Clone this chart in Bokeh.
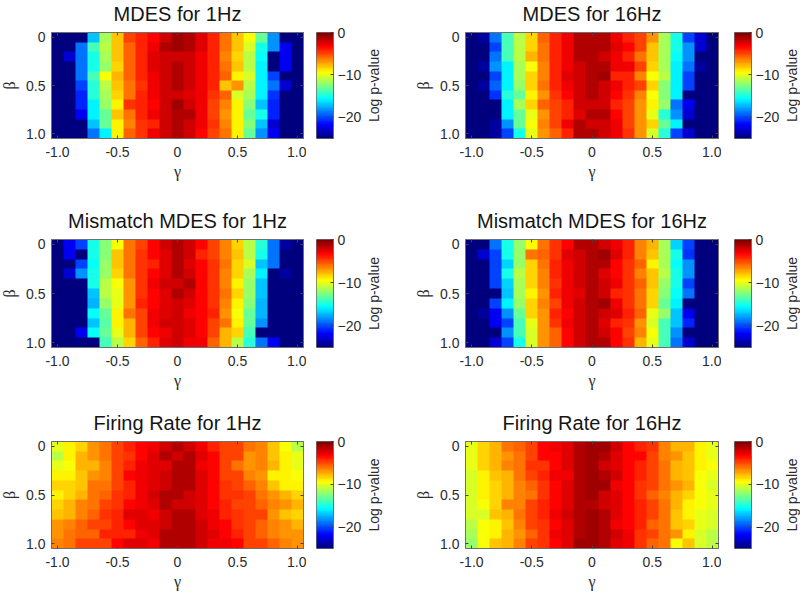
import numpy as np
from bokeh.embed import file_html
from bokeh.resources import INLINE
from bokeh.layouts import column, row
from bokeh.models import FixedTicker, LinearAxis, LinearColorMapper, Range1d
from bokeh.plotting import figure

gamma = [round(-1 + 0.1 * i, 1) for i in range(21)]
beta = [round(0.1 * i, 1) for i in range(11)]

mdes_1hz = [
[-25,-25,-25,-17,-11.5,-8,-5,-4,-3.5,-2,-1,-1.5,-2.5,-4,-6,-8,-9.5,-13,-18,-25,-25],
[-25,-25,-19,-14,-11,-8,-5.5,-4,-3,-1.5,-1,-1.5,-2.5,-4,-6,-8,-10.5,-15,-18,-22,-25],
[-25,-23,-19,-15,-11.5,-8,-5.5,-4,-2.5,-2,-2,-2,-3,-4,-6.5,-8.5,-11,-15.5,-25,-22,-25],
[-25,-25,-19,-15,-12,-8.5,-5.5,-4,-2.5,-2,-1.5,-2,-3,-4,-6,-8,-11,-16,-25,-22,-25],
[-25,-25,-19,-14,-9.5,-7.5,-5.5,-4,-3,-2,-1.5,-2,-3,-4,-5.5,-9,-10.5,-16,-20,-25,-25],
[-25,-25,-20,-14.5,-11,-8,-6,-4.5,-3,-2,-1.5,-2,-3,-4,-8,-7,-11,-16,-19,-23,-25],
[-25,-25,-21,-14.5,-11.5,-8.5,-6,-4,-3,-2,-2,-2.5,-3,-4.5,-5.5,-10.5,-11.5,-16,-20.5,-25,-25],
[-25,-25,-21,-16,-12,-9,-4.5,-4,-3.5,-2,-0.8,-2,-3,-5,-6.5,-9,-12.5,-17,-21,-25,-25],
[-25,-25,-22,-16,-13,-8,-6,-4,-3,-2,-1.5,-1.5,-3,-5,-7,-9,-13,-15,-21,-25,-25],
[-25,-25,-25,-17,-13,-9,-6.5,-4.5,-4,-2,-1.5,-2,-3,-4.5,-6.5,-9,-12.5,-17,-23,-25,-25],
[-25,-25,-25,-19,-16,-9,-5.5,-4.5,-3,-2,-1.5,-2,-3.5,-5,-6,-9,-13,-18,-22,-25,-25],
]
mdes_16hz = [
[-25,-24,-19,-14,-11,-8.5,-5.5,-4,-3,-1.5,-1.5,-1.5,-3,-4,-5,-7,-11.5,-15,-20,-23,-25],
[-25,-25,-20,-14,-11,-8.5,-6,-4,-3,-1.5,-1.5,-1.5,-2.5,-3.5,-5,-8,-11.5,-15,-18,-23,-25],
[-25,-25,-19,-14,-11,-7.5,-6,-4,-3,-1.5,-1.5,-2,-3,-4,-6,-8,-11.5,-15.5,-18,-25,-25],
[-25,-24,-18,-16,-11.5,-9.5,-6.5,-4,-3,-2,-1.5,-1.5,-3,-3,-5,-8.5,-11.5,-16,-19,-24,-25],
[-25,-25,-20,-16,-11.5,-8.5,-6.5,-4,-2.5,-2,-1.5,-1,-4,-4,-6.5,-9.5,-11,-16,-20,-25,-25],
[-25,-24,-19.5,-16,-12,-8.5,-6,-4,-3,-2,-1.5,-2,-3,-4,-5,-8.5,-12.5,-16,-20,-25,-25],
[-25,-25,-20.5,-14.5,-13,-9,-7,-4.5,-3.5,-2,-1.5,-2,-3.5,-4.5,-6.5,-9.5,-12.5,-16,-25,-25,-25],
[-25,-25,-25,-16,-11.5,-8.5,-5.5,-5,-4,-2,-2,-2,-4,-5,-7,-9,-12,-19,-22,-25,-25],
[-25,-25,-25,-16,-13,-10,-7,-5,-4,-2.5,-1.5,-1.5,-3.5,-5,-7,-10,-14.5,-18,-23,-25,-25],
[-25,-25,-24,-18,-13,-9.5,-6.5,-5,-3,-1.2,-2,-2,-3,-5,-7,-8.5,-13,-16,-25,-25,-25],
[-25,-25,-24,-20,-15,-10,-7,-5.5,-4,-1.5,-1.5,-2,-3,-4.5,-7,-10.5,-14.5,-20,-23,-25,-25],
]
mismatch_1hz = [
[-25,-22,-20,-15,-12.5,-9.5,-6,-5,-3.5,-2,-1.5,-2,-3.5,-5,-6.5,-8.5,-11,-14.5,-19,-24,-25],
[-25,-22,-25,-15,-12.5,-8,-6,-4.5,-3.5,-2.5,-1.5,-2,-4,-5,-6.5,-8,-11,-15,-19,-25,-25],
[-25,-25,-20,-15.5,-12,-8,-6,-4.5,-4,-2.5,-1.5,-2.5,-3.5,-4.5,-6,-8.5,-10.5,-17,-19,-25,-25],
[-25,-23,-18,-15,-12,-8.5,-6,-4.5,-3.5,-2.5,-1.5,-2,-3.5,-4.5,-6.5,-8.5,-11.5,-16,-25,-24,-25],
[-25,-25,-25,-15,-11,-9.5,-7,-4.5,-3,-2,-2,-1.5,-3.5,-4.5,-6.5,-9,-12,-17,-25,-25,-25],
[-25,-25,-25,-17,-11,-10,-7,-4.5,-3.5,-2.5,-1.5,-2,-3.5,-4.5,-6,-8.5,-12,-17,-25,-25,-25],
[-25,-25,-25,-17.5,-12,-10,-7,-4,-3.5,-2.5,-2,-2.5,-3.5,-4.5,-6.5,-9,-12.5,-17.5,-25,-25,-25],
[-25,-25,-25,-15.5,-13,-9,-6,-5,-3,-2.5,-2,-3,-3.5,-4,-7,-9.5,-13,-17.5,-25,-25,-25],
[-25,-25,-25,-17,-13.5,-9,-7.5,-5,-3,-2,-2,-2.5,-3.5,-5,-6,-9,-13,-18,-25,-25,-25],
[-25,-25,-22,-15.5,-13,-10,-7.5,-5,-3.5,-3,-2,-2.5,-3.5,-5,-7.5,-8.5,-14,-25,-25,-25,-25],
[-25,-25,-25,-25,-14,-11,-8.5,-5.5,-4,-2.5,-2,-3,-3,-5.5,-7.5,-11,-14.5,-19,-22,-25,-25],
]
mismatch_16hz = [
[-25,-25,-19,-15,-12,-9.5,-6,-4.5,-3.5,-1.5,-1.5,-2,-3,-4,-6.5,-7.5,-11.5,-16.5,-20,-25,-25],
[-25,-23,-20,-15,-12,-6,-5.5,-4.5,-2.5,-2,-1.5,-1,-2.5,-4,-6.5,-8,-11.5,-15,-20.5,-25,-25],
[-25,-25,-20,-16.5,-12,-8.5,-6,-4,-3,-2,-1.5,-1.5,-3.5,-4.5,-5.5,-9,-11.5,-15.5,-18,-25,-25],
[-25,-25,-20,-15,-11,-8.5,-6.5,-4,-3,-2,-1.5,-2.5,-3.5,-4.5,-6.5,-8,-11,-15,-18,-25,-25],
[-25,-25,-20,-16.5,-11.5,-8.5,-6.5,-4.5,-3,-2,-1.5,-2,-3,-4.5,-5.5,-8,-12,-15,-20,-25,-25],
[-25,-25,-25,-17,-11.5,-9,-7,-4,-3,-2.5,-1.5,-2,-4,-4.5,-6,-8.5,-12.5,-15.5,-19,-25,-25],
[-25,-25,-20,-16,-12,-8.5,-6.5,-5,-3,-2,-1.5,-1,-3,-4.5,-6,-8.5,-13,-16,-25,-25,-25],
[-25,-24,-22,-18,-13,-8.5,-7,-4,-3.5,-2,-1.5,-2,-2.5,-4,-5.5,-10,-12,-17,-22,-25,-25],
[-25,-25,-22,-20,-14,-10,-7,-4.5,-3,-2,-1.5,-2.5,-4,-4.5,-7,-10.5,-14,-17,-21,-25,-25],
[-25,-25,-25,-18,-14,-10.5,-7,-5.5,-3.5,-2,-1.5,-2,-3.5,-5,-6.5,-9.5,-14,-18,-25,-25,-25],
[-25,-25,-23,-20,-15,-10.5,-7,-5.5,-3.5,-2,-1.5,-1.5,-3.5,-4.5,-7.5,-10,-14,-19,-23,-25,-25],
]
firing_1hz = [
[-10,-9,-8.5,-7,-6,-5,-4,-3.5,-3,-2,-1.5,-2,-3,-4,-5,-5,-6,-6.5,-8,-9.5,-11],
[-11,-9,-7.5,-7,-6,-5,-4.5,-3.5,-2.5,-1.5,-2,-1.5,-2.5,-3.5,-5,-5,-7,-6.5,-8,-9,-10],
[-10,-9.5,-7.5,-7.5,-6.5,-5,-4,-3,-2.5,-2.5,-1.5,-1.5,-3,-3.5,-5,-6,-7,-6.5,-7.5,-9,-10],
[-9,-9,-8,-7,-6.5,-5,-3.5,-3,-2.5,-2,-1.5,-1.5,-2.5,-3.5,-5,-5,-6.5,-7,-9,-9,-9.5],
[-8.5,-8.5,-8,-6,-6,-5,-4,-3,-2.5,-2,-1.5,-1.5,-2.5,-3.5,-4.5,-5,-5.5,-6.5,-8,-9,-9],
[-9,-8.5,-7.5,-6,-5.5,-4.5,-4,-3,-2,-1.5,-1.5,-2,-2.5,-3.5,-4.5,-4.5,-5,-6,-7,-7.5,-8.5],
[-8.5,-7.5,-6.5,-6,-5,-4.5,-3.5,-3,-2.5,-1.5,-2,-2,-2.5,-3.5,-4,-5,-5,-5.5,-6.5,-7,-7.5],
[-8,-7.5,-6.5,-5.5,-4.5,-4,-2.5,-2.5,-3,-2,-1.5,-1.5,-2.5,-3,-4,-4.5,-5,-5,-7,-8,-8.5],
[-7,-6.5,-5.5,-5,-5,-4,-3.5,-2.5,-2.5,-2,-1.5,-1.5,-2,-3,-3.5,-4.5,-5,-5.5,-6.5,-7,-7.5],
[-7,-6,-5.5,-5.5,-4,-4,-4,-3,-2.5,-1.5,-1.5,-1.5,-2,-2.5,-3.5,-4,-5,-5.5,-6.5,-7,-7],
[-6.5,-6,-5,-5,-5,-3.5,-2.5,-2.5,-3,-1.5,-1.5,-1.5,-2,-3,-3,-3.5,-5,-5,-5.5,-6.5,-7],
]
firing_16hz = [
[-10,-8.5,-7.5,-6,-5.5,-5,-3.5,-3,-2.5,-1.5,-1,-1,-2,-3.5,-4,-4.5,-6.5,-7.5,-7.5,-9,-10],
[-10,-8.5,-7.5,-7,-6,-5,-3.5,-3.5,-2.5,-1.5,-1,-1.5,-2.5,-3.5,-3.5,-5,-6.5,-7,-8,-9,-10],
[-10,-8.5,-7.5,-6.5,-6,-4.5,-4.5,-3.5,-2.5,-1.5,-1,-2,-2.5,-3.5,-4,-5,-6,-7.5,-8,-9,-9.5],
[-10.5,-9,-8,-7.5,-6,-5,-4,-3,-3,-1.5,-1,-1.5,-2,-3.5,-4,-5,-6,-7.5,-8,-9.5,-10],
[-10.5,-9,-8.5,-7.5,-6.5,-5.5,-4.5,-3.5,-2.5,-1.5,-1,-1,-3,-3.5,-4.5,-5,-6,-7,-7.5,-9.5,-10.5],
[-10.5,-9,-8.5,-7.5,-6.5,-6,-4.5,-3.5,-2.5,-1.5,-1,-2,-2.5,-3.5,-4.5,-5.5,-6.5,-7.5,-8.5,-9.5,-10],
[-10.5,-9.5,-8.5,-6.5,-6.5,-5,-4,-3.5,-2.5,-1.5,-1.5,-2,-2.5,-3.5,-4,-5,-6,-7.5,-9,-9.5,-10],
[-10.5,-10.5,-8,-7.5,-6,-5,-4,-3,-2,-1.5,-1,-1.5,-2.5,-3.5,-4,-5,-6,-8,-9,-10,-10.5],
[-11,-9.5,-9,-8,-6.5,-5,-4.5,-3.5,-2.5,-1.5,-1,-1.5,-3,-3.5,-4,-5.5,-6,-8,-8.5,-10,-10.5],
[-11.5,-9.5,-9,-7.5,-7,-5.5,-4.5,-3,-2.5,-1.5,-1,-1.5,-2,-3,-4.5,-5,-6,-7,-9,-10.5,-11],
[-12,-9.5,-8,-7.5,-6.5,-5,-4.5,-3.5,-2.5,-1,-1,-1.5,-2.5,-3,-4.5,-5.5,-6,-9.5,-8,-10.5,-11],
]

titles = ["MDES for 1Hz", "MDES for 16Hz", "Mismatch MDES for 1Hz",
          "Mismatch MDES for 16Hz", "Firing Rate for 1Hz", "Firing Rate for 16Hz"]
panels = [mdes_1hz, mdes_16hz, mismatch_1hz, mismatch_16hz, firing_1hz, firing_16hz]
colorbar_ticks = [0, -10, -20]
gamma_ticks = [-1, -0.5, 0, 0.5, 1]
beta_ticks = [0, 0.5, 1]


def jet(n=64):
    out = []
    for t in np.linspace(0, 1, n):
        r = np.clip(min(4 * t - 1.5, -4 * t + 4.5), 0, 1)
        g = np.clip(min(4 * t - 0.5, -4 * t + 3.5), 0, 1)
        b = np.clip(min(4 * t + 0.5, -4 * t + 2.5), 0, 1)
        out.append("#%02x%02x%02x" % (int(r * 255), int(g * 255), int(b * 255)))
    return out


mapper = LinearColorMapper(palette=jet(), low=-25, high=0)
INK = "#2b2b2b"
FONT = "Liberation Sans"
BOX = "#6f6f6f"


def style_axis(ax, size="14px", standoff=5):
    ax.major_tick_in = 3
    ax.major_tick_out = 0
    ax.minor_tick_line_color = None
    ax.major_tick_line_color = "#444444"
    ax.axis_line_color = BOX
    ax.major_label_text_font = FONT
    ax.major_label_text_font_size = size
    ax.major_label_text_color = INK
    ax.major_label_standoff = standoff


def tick_only(ticks):
    ax = LinearAxis(ticker=FixedTicker(ticks=ticks), major_label_text_font_size="0px",
                    major_label_standoff=0, major_tick_in=3, major_tick_out=0,
                    minor_tick_line_color=None, major_tick_line_color="#444444",
                    axis_line_color=BOX, major_label_overrides={t: "" for t in ticks})
    return ax


def heat(title, values, w, h, left, right, top, bottom, fw, fh, margin_left=0, margin_top=0):
    arr = np.array(values, dtype=float)
    dx = gamma[1] - gamma[0]
    dy = beta[1] - beta[0]
    p = figure(width=w, height=h, frame_width=fw, frame_height=fh,
               x_range=Range1d(gamma[0] - dx / 2, gamma[-1] + dx / 2),
               y_range=Range1d(beta[-1] + dy / 2, beta[0] - dy / 2),
               output_backend="svg", toolbar_location=None,
               min_border_left=left, min_border_right=right,
               min_border_top=top, min_border_bottom=bottom,
               margin=(margin_top, 0, 0, margin_left))
    p.image(image=[arr], x=gamma[0] - dx / 2, y=beta[0] - dy / 2,
            dw=gamma[-1] - gamma[0] + dx, dh=beta[-1] - beta[0] + dy, color_mapper=mapper)
    p.grid.visible = False
    p.outline_line_color = BOX
    p.title.text = title
    p.title.align = "center"
    p.title.text_font = FONT
    p.title.text_font_size = "20px"
    p.title.text_font_style = "normal"
    p.title.text_color = "#151515"
    p.title.standoff = 16
    style_axis(p.xaxis[0], standoff=8)
    style_axis(p.yaxis[0], standoff=6)
    p.xaxis[0].ticker = FixedTicker(ticks=gamma_ticks)
    p.yaxis[0].ticker = FixedTicker(ticks=beta_ticks)
    p.xaxis[0].major_label_overrides = {-1: "-1.0", -0.5: "-0.5", 0: "0", 0.5: "0.5", 1: "1.0"}
    p.yaxis[0].major_label_overrides = {0: "0", 0.5: "0.5", 1: "1.0"}
    for ax, lab, st in ((p.xaxis[0], "γ", 3), (p.yaxis[0], "β", 5)):
        ax.axis_label = lab
        ax.axis_label_text_font = "Liberation Serif"
        ax.axis_label_text_font_style = "normal"
        ax.axis_label_text_font_size = "16px"
        ax.axis_label_text_color = INK
        ax.axis_label_standoff = st
    p.add_layout(tick_only(gamma_ticks), "above")
    p.add_layout(tick_only(beta_ticks), "right")
    return p


def bar(w, h, left, top, bottom, fw, fh, margin_top=0):
    p = figure(width=w, height=h, frame_width=fw, frame_height=fh,
               x_range=Range1d(0, 1), y_range=Range1d(-25, 0),
               x_axis_type=None, y_axis_location="right",
               output_backend="svg", toolbar_location=None,
               min_border_left=left, min_border_right=w - left - fw,
               min_border_top=top, min_border_bottom=bottom,
               margin=(margin_top, 0, 0, 0))
    p.image(image=[np.linspace(-25, 0, 64).reshape(64, 1)], x=0, y=-25, dw=1, dh=25, color_mapper=mapper)
    p.grid.visible = False
    p.outline_line_color = BOX
    style_axis(p.yaxis[0], "14px", standoff=4)
    p.yaxis[0].ticker = FixedTicker(ticks=colorbar_ticks)
    return p


def bar_label(w, h, left, top, bottom, fh, margin_top=0, margin_left=0):
    # a narrow figure whose left axis carries only the rotated colour-bar caption
    p = figure(width=w, height=h, frame_width=1, frame_height=fh,
               x_range=Range1d(0, 1), y_range=Range1d(-25, 0), x_axis_type=None,
               output_backend="svg", toolbar_location=None,
               min_border_left=left, min_border_right=w - left - 1,
               min_border_top=top, min_border_bottom=bottom,
               margin=(margin_top, 0, 0, margin_left), outline_line_color=None)
    p.grid.visible = False
    ax = p.yaxis[0]
    ax.ticker = FixedTicker(ticks=[])
    ax.minor_tick_line_color = None
    ax.major_tick_line_color = None
    ax.axis_line_color = None
    ax.major_label_text_font_size = "0px"
    ax.major_label_standoff = 0
    ax.axis_label = "Log p-value"
    ax.axis_label_text_font = FONT
    ax.axis_label_text_font_style = "normal"
    ax.axis_label_text_font_size = "14px"
    ax.axis_label_text_color = INK
    ax.axis_label_standoff = 3
    return p


# row geometry: (row height, space above frame, frame height, pull-up of the figures)
rows_geo = [(195, 32, 106, 10), (200, 44, 108, 0), (195, 46, 107, 0)]
rows_out = []
for i, (H, top, fh, pull) in enumerate(rows_geo):
    bottom = H - top - fh
    a = heat(titles[2 * i], panels[2 * i], 310, H + pull, 55, 3, top + pull, bottom, 252, fh,
             margin_left=-4, margin_top=-pull)
    b = bar(60, H + pull, 10, top + pull, bottom, 17, fh, margin_top=-pull)
    b2 = bar_label(38, H + pull, 20, top + pull, bottom, fh, margin_top=-pull, margin_left=-4)
    c = heat(titles[2 * i + 1], panels[2 * i + 1], 319, H + pull, 63, 3, top + pull, bottom, 253, fh,
             margin_top=-pull)
    d = bar(63, H + pull, 13, top + pull, bottom, 17, fh, margin_top=-pull)
    d2 = bar_label(22, H + pull, 20, top + pull, bottom, fh, margin_top=-pull, margin_left=-4)
    rows_out.append(row(a, b, b2, c, d, d2, spacing=0))

page = column(*rows_out, spacing=0)
open("out.html", "w").write(file_html(page, INLINE))
